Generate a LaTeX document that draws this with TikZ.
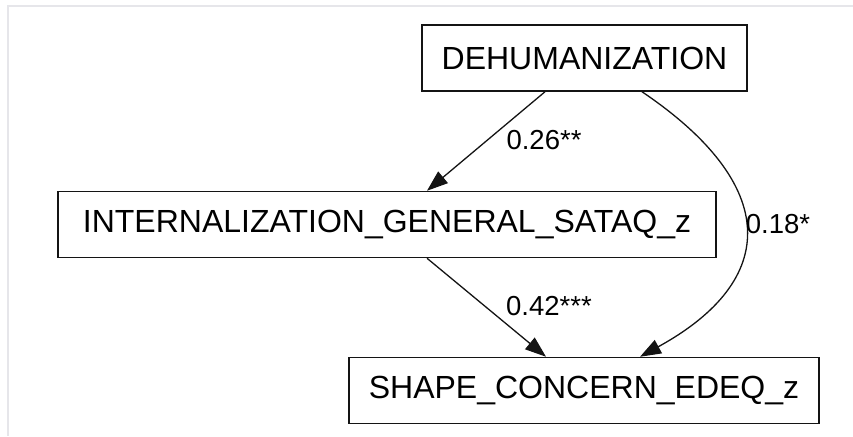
\documentclass[tikz,border=0pt]{standalone}
\usepackage{fontspec}
\setmainfont{Liberation Sans}
\usetikzlibrary{arrows.meta}
\definecolor{framegray}{HTML}{E6E6EA}
\definecolor{linegray}{HTML}{141414}
\tikzset{
  varbox/.style={draw=linegray, line width=1.5pt, inner sep=0pt, minimum height=66pt,
    font=\fontsize{32}{38}\selectfont},
  path/.style={draw=linegray, line width=1.3pt, -{Triangle[length=21pt,width=15pt]}},
  coef/.style={font=\fontsize{27.5}{33}\selectfont, inner sep=0pt}
}
\begin{document}
\begin{tikzpicture}[x=1pt,y=-1pt]
  \useasboundingbox (0,0) rectangle (853,436);
  % thin frame along the top and left
  \draw[framegray, line width=2pt] (853,6) -- (8,6) -- (8,436);

  \node[varbox, minimum width=325pt] (dehum) at (584.5,58) {DEHUMANIZATION};
  \node[varbox, minimum width=658pt] (intern) at (387,224.5) {INTERNALIZATION\_GENERAL\_SATAQ\_z};
  \node[varbox, minimum width=470pt] (shape) at (584,390.5) {SHAPE\_CONCERN\_EDEQ\_z};

  \coordinate (d1) at ([xshift=-39.5pt]dehum.south);
  \coordinate (d2) at ([xshift=57.5pt]dehum.south);
  \coordinate (i1) at ([xshift=40pt]intern.north);
  \coordinate (i2) at ([xshift=40pt]intern.south);
  \coordinate (s1) at ([xshift=-38pt]shape.north);
  \coordinate (s2) at ([xshift=56pt]shape.north);

  \draw[path] (d1) -- (i1);
  \draw[path] (i2) -- (s1);
  \draw[path] (d2) .. controls (780,185) and (780,280) .. (s2);

  \node[coef] (c1) at (544,140) {0.26**};
  \node[coef] (c2) at (549,306) {0.42***};
  \node[coef] (c3) at (778,224) {0.18*};
\end{tikzpicture}
\end{document}
